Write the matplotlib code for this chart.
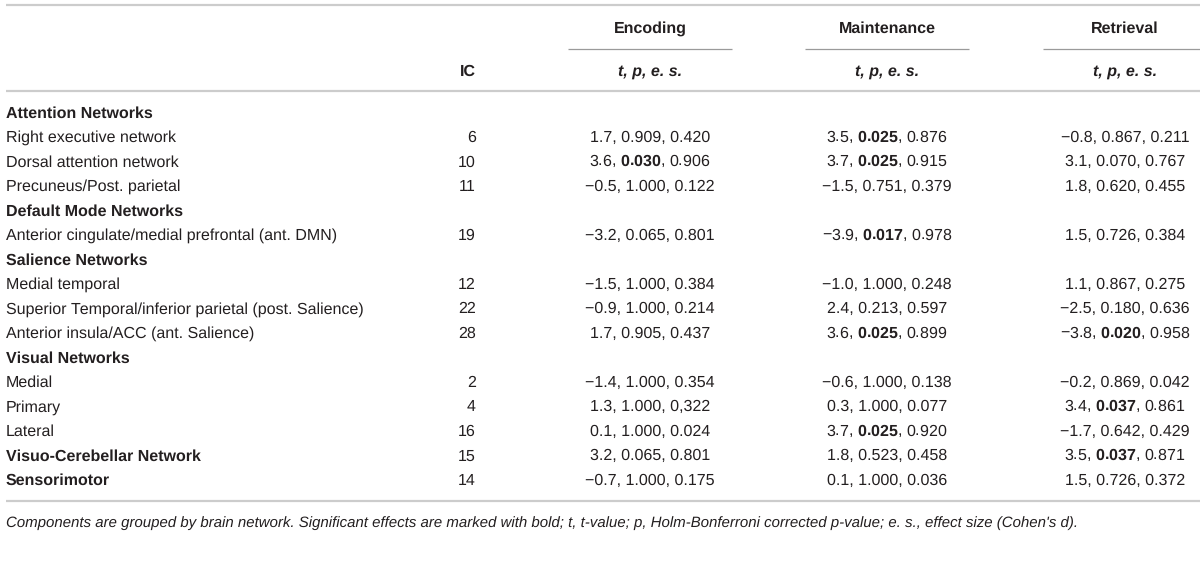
import matplotlib
matplotlib.use("Agg")
import matplotlib.pyplot as plt

plt.rcParams['font.family'] = ['Liberation Sans', 'DejaVu Sans']
plt.rcParams['text.hinting'] = 'no_hinting'
plt.rcParams['text.hinting_factor'] = 1
# bold p-values are written as mathtext, so use the same family there
plt.rcParams['mathtext.fontset'] = 'custom'
plt.rcParams['mathtext.rm'] = 'Liberation Sans'
plt.rcParams['mathtext.bf'] = 'Liberation Sans:bold'
plt.rcParams['mathtext.it'] = 'Liberation Sans:italic'

MINUS = "\u2212"

# === table content ===
row_labels = [
    "Attention Networks",
    "Right executive network",
    "Dorsal attention network",
    "Precuneus/Post. parietal",
    "Default Mode Networks",
    "Anterior cingulate/medial prefrontal (ant. DMN)",
    "Salience Networks",
    "Medial temporal",
    "Superior Temporal/inferior parietal (post. Salience)",
    "Anterior insula/ACC (ant. Salience)",
    "Visual Networks",
    "Medial",
    "Primary",
    "Lateral",
    "Visuo-Cerebellar Network",
    "Sensorimotor",
]
row_bold = [True, False, False, False, True, False, True, False, False, False,
            True, False, False, False, True, True]
ic = [None, 6, 10, 11, None, 19, None, 12, 22, 28, None, 2, 4, 16, 15, 14]

phases = ["Encoding", "Maintenance", "Retrieval"]

enc_t = [None, 1.7, 3.6, -0.5, None, -3.2, None, -1.5, -0.9, 1.7, None, -1.4, 1.3, 0.1, 3.2, -0.7]
enc_p = [None, 0.909, 0.030, 1.000, None, 0.065, None, 1.000, 1.000, 0.905, None, 1.000, 1.000, 1.000, 0.065, 1.000]
enc_es = [None, "0.420", "0.906", "0.122", None, "0.801", None, "0.384", "0.214", "0.437",
          None, "0.354", "0,322", "0.024", "0.801", "0.175"]

mai_t = [None, 3.5, 3.7, -1.5, None, -3.9, None, -1.0, 2.4, 3.6, None, -0.6, 0.3, 3.7, 1.8, 0.1]
mai_p = [None, 0.025, 0.025, 0.751, None, 0.017, None, 1.000, 0.213, 0.025, None, 1.000, 1.000, 0.025, 0.523, 1.000]
mai_es = [None, "0.876", "0.915", "0.379", None, "0.978", None, "0.248", "0.597", "0.899",
          None, "0.138", "0.077", "0.920", "0.458", "0.036"]

ret_t = [None, -0.8, 3.1, 1.8, None, 1.5, None, 1.1, -2.5, -3.8, None, -0.2, 3.4, -1.7, 3.5, 1.5]
ret_p = [None, 0.867, 0.070, 0.620, None, 0.726, None, 0.867, 0.180, 0.020, None, 0.869, 0.037, 0.642, 0.037, 0.726]
ret_es = [None, "0.211", "0.767", "0.455", None, "0.384", None, "0.275", "0.636", "0.958",
          None, "0.042", "0.861", "0.429", "0.871", "0.372"]

caption = ("Components are grouped by brain network. Significant effects are marked with bold; "
           "t, t-value; p, Holm-Bonferroni corrected p-value; e. s., effect size (Cohen's d).")

# === layout (pixels) ===
FS = 11.25      # labels / headers
VFS = 11.7      # numeric cells
CAP_FS = 11.05
TXT = "#231f20"
col_centers = [650, 887, 1125]
col_half = 82
IC_RIGHT = 476
Y0, DY = 112, 24.5
BASE = 5.4

fig = plt.figure(figsize=(12, 5.63), dpi=100)
ax = fig.add_axes([0, 0, 1, 1])
ax.set_xlim(0, 1200)
ax.set_ylim(563, 0)
ax.axis("off")


def fmt(v, nd):
    s = f"{v:.{nd}f}"
    return s.replace("-", MINUS)


# lines
for y in [5, 91, 501]:
    ax.plot([6, 1200], [y, y], color="#cccccc", lw=1.6, solid_capstyle="butt")
for cx in col_centers:
    ax.plot([cx - col_half, cx + col_half], [49, 49], color="#9a9a9a", lw=0.9,
            solid_capstyle="butt")

# header
for cx, name in zip(col_centers, phases):
    ax.text(cx, 27 + BASE, name, ha="center", va="baseline", fontsize=FS,
            fontweight="bold", color=TXT)
    ax.text(cx, 70 + BASE, "t, p, e. s.", ha="center", va="baseline", fontsize=FS,
            fontweight="bold", fontstyle="italic", color=TXT)
ax.text(IC_RIGHT, 70 + BASE, "IC", ha="right", va="baseline", fontsize=FS,
        fontweight="bold", color=TXT)


def cell_text(t, p, es):
    ps = fmt(p, 3)
    if p < 0.05:
        ps = r"$\mathbf{" + ps + "}$"
    return f"{fmt(t, 1)}, {ps}, {es}"


# body
series = [(enc_t, enc_p, enc_es), (mai_t, mai_p, mai_es), (ret_t, ret_p, ret_es)]
for i, label in enumerate(row_labels):
    y = Y0 + i * DY + BASE
    ax.text(6, y, label, ha="left", va="baseline", fontsize=FS,
            fontweight="bold" if row_bold[i] else "normal", color=TXT)
    if ic[i] is not None:
        ax.text(IC_RIGHT, y, str(ic[i]), ha="right", va="baseline", fontsize=VFS, color=TXT)
    for cx, (ts, ps, ess) in zip(col_centers, series):
        if ts[i] is not None:
            ax.text(cx, y, cell_text(ts[i], ps[i], ess[i]), ha="center", va="baseline",
                    fontsize=VFS, color=TXT)

ax.text(6, 521 + BASE, caption, ha="left", va="baseline", fontsize=CAP_FS,
        fontstyle="italic", color=TXT)

fig.savefig("out.png", dpi=100)
